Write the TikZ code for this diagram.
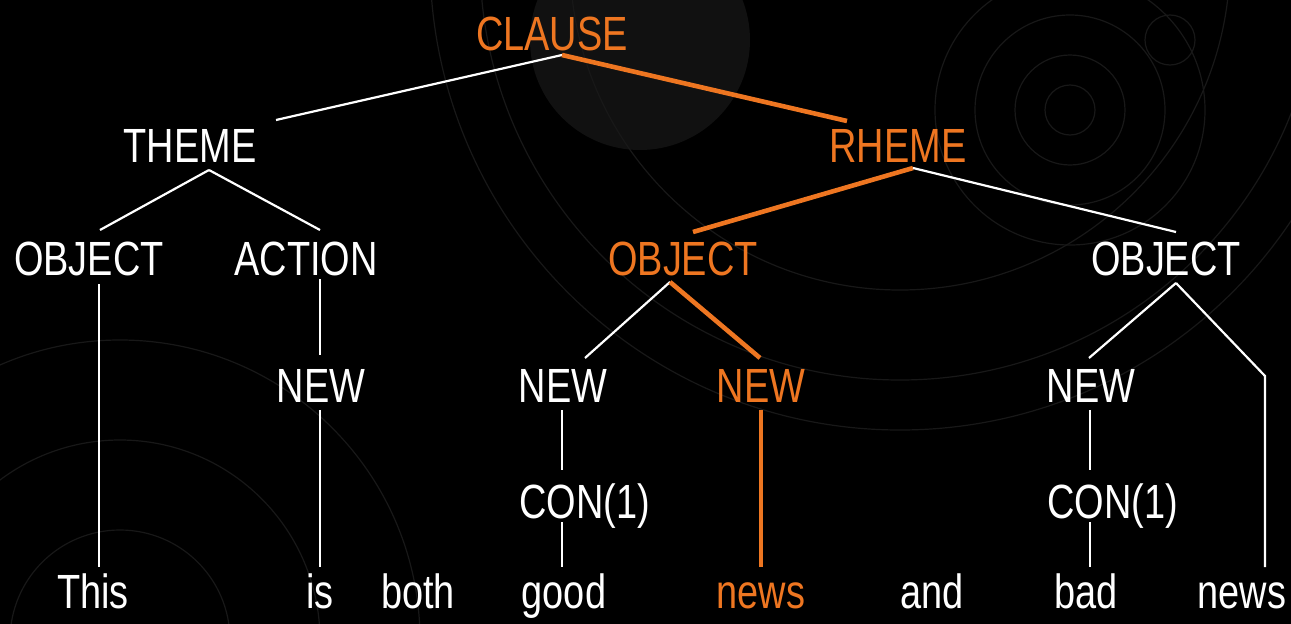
\documentclass[tikz,border=0pt]{standalone}
\usepackage{fontspec}
\setmainfont{Liberation Sans}[FakeStretch=0.79]
\usetikzlibrary{calc}
\definecolor{hl}{RGB}{238,118,33}
\definecolor{bgfaint}{RGB}{17,17,17}
\definecolor{bgline}{RGB}{24,24,24}
\begin{document}
\begin{tikzpicture}[x=1pt,y=-1pt,
  lbl/.style={inner sep=0pt,anchor=base,text=white,font=\fontsize{48}{50}\selectfont},
  hlbl/.style={lbl,text=hl},
  wline/.style={draw=white,line width=2.2pt},
  oline/.style={draw=hl,line width=4.6pt}]
\useasboundingbox (0,0) rectangle (1291,624);
\fill[black] (0,0) rectangle (1291,624);
% faint background engraving
\begin{scope}
\clip (0,0) rectangle (1291,624);
\fill[bgfaint] (640,40) circle (110);
\draw[bgline,line width=1.2pt] (900,-40) circle (470);
\draw[bgline,line width=1.2pt] (900,-40) circle (420);
\draw[bgline,line width=1.2pt] (900,-40) circle (330);
\draw[bgline,line width=1.2pt] (1070,110) circle (25);
\draw[bgline,line width=1.2pt] (1070,110) circle (55);
\draw[bgline,line width=1.2pt] (1070,110) circle (95);
\draw[bgline,line width=1.2pt] (1070,110) circle (135);
\draw[bgline,line width=1.2pt] (1170,40) circle (25);
\draw[bgline,line width=1.2pt] (120,640) circle (110);
\draw[bgline,line width=1.2pt] (120,640) circle (200);
\draw[bgline,line width=1.2pt] (120,640) circle (300);
\end{scope}
% nodes
\node[hlbl] (clause) at (552,50) {CLAUSE};
\node[lbl]  (theme)  at (190,162) {THEME};
\node[hlbl] (rheme)  at (898,162) {RHEME};
\node[lbl]  (objA)   at (89,275) {OBJECT};
\node[lbl]  (action) at (306,275) {ACTION};
\node[hlbl] (objB)   at (683,275) {OBJECT};
\node[lbl]  (objC)   at (1166,275) {OBJECT};
\node[lbl]  (newA)   at (321,402) {NEW};
\node[lbl]  (newB)   at (563,402) {NEW};
\node[hlbl] (newC)   at (761,402) {NEW};
\node[lbl]  (newD)   at (1091,402) {NEW};
\node[lbl,anchor=base west] (conB) at (519,518) {CON(1)};
\node[lbl,anchor=base west] (conD) at (1047,518) {CON(1)};
\node[lbl]  (wThis)  at (93,608) {This};
\node[lbl]  (wIs)    at (320,608) {is};
\node[lbl]  (wBoth)  at (418,608) {both};
\node[lbl]  (wGood)  at (564,608) {good};
\node[hlbl] (wNewsA) at (761,608) {news};
\node[lbl]  (wAnd)   at (932,608) {and};
\node[lbl]  (wBad)   at (1086,608) {bad};
\node[lbl]  (wNewsB) at (1242,608) {news};
% connectors
\draw[wline] ($(clause.base)+(10,5)$) -- ($(theme.base)+(86,-42)$);
\draw[oline] ($(clause.base)+(10,5)$) -- ($(rheme.base)+(-51,-41)$);
\draw[wline] ($(theme.base)+(19,8)$) -- ($(objA.base)+(11,-45)$);
\draw[wline] ($(theme.base)+(19,8)$) -- ($(action.base)+(14,-45)$);
\draw[wline] ($(objA.base)+(10,9)$) -- ($(wThis.base)+(6,-41)$);
\draw[wline] ($(action.base)+(14,4)$) -- ($(newA.base)+(-1,-47)$);
\draw[wline] ($(newA.base)+(-1,8)$) -- ($(wIs.base)+(0,-41)$);
\draw[oline] ($(rheme.base)+(15,6)$) -- ($(objB.base)+(10,-43)$);
\draw[wline] ($(rheme.base)+(15,6)$) -- ($(objC.base)+(10,-43)$);
\draw[wline] ($(objB.base)+(-13,7)$) -- ($(newB.base)+(22,-44)$);
\draw[oline] ($(objB.base)+(-13,7)$) -- ($(newC.base)+(-1,-44)$);
\draw[oline] ($(newC.base)+(0,8)$) -- ($(wNewsA.base)+(0,-41)$);
\draw[wline] ($(newB.base)+(-1,8)$) -- ($(conB.base west)+(43,-48)$);
\draw[wline] ($(conB.base west)+(43,4)$) -- ($(wGood.base)+(-2,-41)$);
\draw[wline] ($(objC.base)+(10,8)$) -- ($(newD.base)+(-2,-44)$);
\draw[wline] ($(objC.base)+(10,8)$) -- ($(wNewsB.base)+(23,-232)$) -- ($(wNewsB.base)+(23,-41)$);
\draw[wline] ($(newD.base)+(-1,8)$) -- ($(conD.base west)+(43,-48)$);
\draw[wline] ($(conD.base west)+(43,4)$) -- ($(wBad.base)+(4,-41)$);
\end{tikzpicture}
\end{document}
